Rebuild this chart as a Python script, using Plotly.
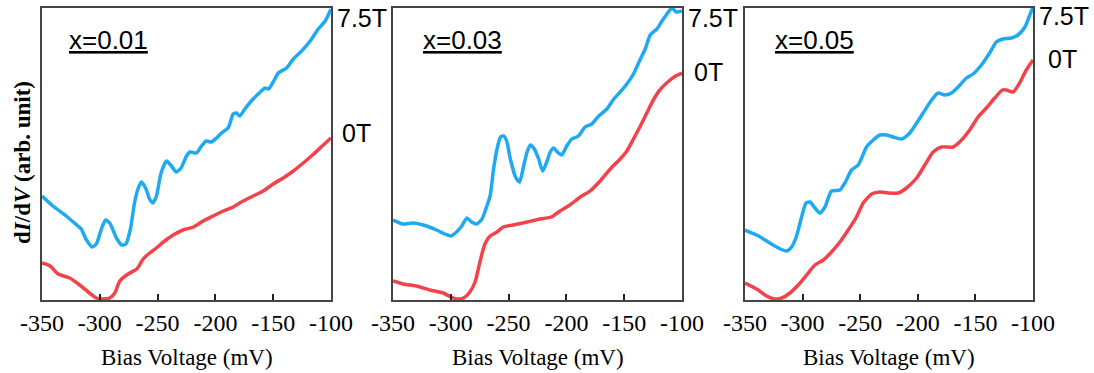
import plotly.graph_objects as go

W, H = 1094, 373

# Bias voltage (mV) and dI/dV (arb. unit) for each doping level, 7.5T and 0T
v01_b = [-350, -340.5, -329, -319, -316, -312, -306.6, -303, -298.6, -295, -291.4, -285.6, -281, -277.5,
         -273.5, -270, -267, -264, -260, -257, -254, -251, -247, -242.3, -238, -234, -229.7, -225, -222,
         -216.4, -212, -208, -203.5, -199, -194.7, -189, -184.6, -182, -179, -174.5, -169, -163, -157,
         -154, -150, -145.6, -138.4, -132.6, -125.4, -118, -111, -105, -100]
g01_b = [104, 94, 84, 74, 71, 61, 53, 56, 71, 80, 77, 62, 55, 56, 71, 97, 111, 118, 111, 101, 97, 104,
         127, 139, 134, 128, 132, 144, 148, 147, 154, 159, 158, 162, 167, 172, 186, 187, 184, 191, 199,
         206, 212, 211, 218, 227, 232, 241, 249, 259, 271, 279, 291]
v01_r = [-350, -343, -336, -326, -317.4, -310, -303, -297, -291.4, -287, -282.7, -275.5, -268, -262.5,
         -256.8, -251, -245, -236.5, -228, -219, -210.6, -202, -193, -184.6, -176, -167.3, -158.6, -150,
         -141.3, -132.6, -124, -115, -106.6, -100]
g01_r = [37, 34, 26, 22, 15, 8, 2, 1, 2, 7, 19, 26, 31, 41, 47, 52, 58, 65, 70, 73, 79, 84, 89, 93, 99,
         104, 109, 116, 122, 129, 137, 146, 155, 162]

v03_b = [-350, -341.3, -332.7, -321, -312.4, -305, -300, -295, -290.5, -286, -282, -277.7, -273, -268.8,
         -266, -263, -260, -257, -254, -251.4, -248.5, -244, -240.5, -237, -234, -231.2, -227.7, -224,
         -220.5, -217, -214, -211, -207.8, -204, -199.7, -195.4, -189.6, -183.8, -178, -172, -165, -159,
         -153.5, -147.7, -142, -136, -131.8, -127.5, -121.7, -117.3, -113, -108.7, -105, -100]
g03_b = [80, 76, 77, 74, 70, 66, 64, 68, 74, 82, 78, 76, 81, 94, 104, 131, 151, 163, 164, 158, 141, 123,
         118, 134, 148, 155, 151, 141, 129, 138, 148, 152, 148, 145, 154, 161, 164, 173, 176, 184, 191,
         201, 208, 216, 226, 241, 251, 265, 271, 279, 286, 292, 288, 289]
v03_r = [-350, -341.3, -329.8, -318, -306.6, -300, -295, -289, -283.5, -279, -274.8, -270.5, -266, -260,
         -254.6, -246, -234, -223, -213, -205.5, -197, -188, -179.5, -170.8, -162, -153.5, -147.7, -142,
         -136, -130, -124.3, -118.5, -111.3, -105.5, -100]
g03_r = [19, 16, 14, 10, 7, 3, 1, 2, 8, 18, 38, 56, 64, 68, 73, 75, 78, 81, 83, 89, 95, 103, 109, 119,
         131, 141, 149, 161, 174, 188, 201, 211, 219, 224, 227]

v05_b = [-350, -339.9, -329.8, -321, -313.9, -309.5, -305, -300.9, -297, -293.6, -289.3, -285, -280.6,
         -274.9, -267.6, -263.3, -257.5, -251.7, -244.5, -238.7, -232.9, -227, -221.4, -214, -207, -201,
         -195.4, -188, -182.4, -176.6, -170.8, -165, -157.8, -152, -144.8, -137.6, -131.8, -126, -118.8,
         -113, -107, -102.8, -100]
g05_b = [70, 65, 58, 52, 49, 53, 65, 83, 97, 98, 92, 87, 93, 109, 110, 117, 130, 135, 153, 160, 165, 165,
         163, 161, 167, 177, 187, 200, 207, 205, 207, 213, 222, 226, 235, 247, 258, 261, 262, 265, 273,
         285, 293]
v05_r = [-350, -339.9, -331.2, -324, -318, -311, -303.8, -296.5, -289.3, -282, -274.9, -267.6, -260.4,
         -253.2, -247.4, -240, -232.9, -225.7, -217, -209.8, -201, -193.9, -186.7, -179.5, -169.4, -162,
         -155, -147.7, -140.5, -133.2, -126.6, -123, -117.3, -111.6, -105.8, -100]
g05_r = [17, 11, 4, 1, 2, 7, 15, 25, 35, 40, 48, 58, 70, 83, 97, 106, 108, 107, 107, 112, 122, 135, 148,
         153, 153, 160, 170, 183, 192, 202, 210, 210, 208, 217, 230, 240]

panels = [
    dict(label="x=0.01", blue=(v01_b, g01_b), red=(v01_r, g01_r)),
    dict(label="x=0.03", blue=(v03_b, g03_b), red=(v03_r, g03_r)),
    dict(label="x=0.05", blue=(v05_b, g05_b), red=(v05_r, g05_r)),
]
tick_vals = [-350, -300, -250, -200, -150, -100]
tick_text = ["-350", "-300", "-250", "-200", "-150", "-100"]

BLUE = "#1FA9F0"
RED = "#F2424A"

# pixel geometry of each panel: left, right edges; shared top and bottom
px_left = [42, 393, 745]
px_right = [331, 682, 1033]
px_top, px_bottom = 8, 300
# text label pixel positions: (x_left, y_center) of "7.5T" and "0T", and x of the sample label
t75_pos = [(335, 18), (686, 18), (1037, 16)]
t0_pos = [(340, 133), (692, 72), (1046, 59)]
lab_x = [67, 421, 773]


def px2x(p):
    return p / W


def py2y(p):
    return 1 - p / H


fig = go.Figure()
annotations = []
for i, p in enumerate(panels):
    n = "" if i == 0 else str(i + 1)
    xa, ya = "x" + n, "y" + n
    for (vx, gy), col in ((p["blue"], BLUE), (p["red"], RED)):
        fig.add_trace(go.Scatter(x=vx, y=gy, mode="lines", xaxis=xa, yaxis=ya,
                                 line=dict(color=col, width=3.5, shape="spline", smoothing=0.6),
                                 showlegend=False, hoverinfo="skip"))
    axis_common = dict(showline=True, linecolor="#444444", linewidth=1.6, mirror=True,
                       showgrid=False, zeroline=False)
    fig.update_layout(**{
        "xaxis" + n: dict(domain=[px2x(px_left[i]), px2x(px_right[i])], range=[-350, -100],
                          tickvals=tick_vals, ticktext=tick_text, ticks="inside", ticklen=6,
                          tickwidth=1.6, tickcolor="#222222",
                          tickfont=dict(family="Liberation Serif", size=24, color="black"),
                          anchor=ya, **axis_common),
        "yaxis" + n: dict(domain=[py2y(px_bottom), py2y(px_top)], range=[0, 292],
                          showticklabels=False, ticks="", anchor=xa, **axis_common),
    })
    annotations.append(dict(text="<u>" + p["label"] + "</u>", xref="paper", yref="paper",
                            x=px2x(lab_x[i]), y=py2y(40), xanchor="left", yanchor="middle",
                            showarrow=False,
                            font=dict(family="Liberation Sans", size=26, color="black")))
    annotations.append(dict(text="7.5T", xref="paper", yref="paper",
                            x=px2x(t75_pos[i][0]), y=py2y(t75_pos[i][1]),
                            xanchor="left", yanchor="middle", showarrow=False,
                            font=dict(family="Liberation Sans", size=25, color="black")))
    annotations.append(dict(text="0T", xref="paper", yref="paper",
                            x=px2x(t0_pos[i][0]), y=py2y(t0_pos[i][1]),
                            xanchor="left", yanchor="middle", showarrow=False,
                            font=dict(family="Liberation Sans", size=25, color="black")))
    annotations.append(dict(text="Bias Voltage (mV)", xref="paper", yref="paper",
                            x=px2x((px_left[i] + px_right[i]) / 2), y=py2y(357),
                            xanchor="center", yanchor="middle", showarrow=False,
                            font=dict(family="Liberation Serif", size=23, color="black")))

annotations.append(dict(text="<b>d<i>I</i>/d<i>V</i> (arb. unit)</b>", xref="paper", yref="paper",
                        x=px2x(22), y=py2y(163), xanchor="center", yanchor="middle",
                        textangle=-90, showarrow=False,
                        font=dict(family="Liberation Serif", size=23, color="black")))

fig.update_layout(width=W, height=H, margin=dict(l=0, r=0, t=0, b=0, autoexpand=False),
                  paper_bgcolor="white", plot_bgcolor="white",
                  annotations=annotations)

fig.write_html("out.html")
